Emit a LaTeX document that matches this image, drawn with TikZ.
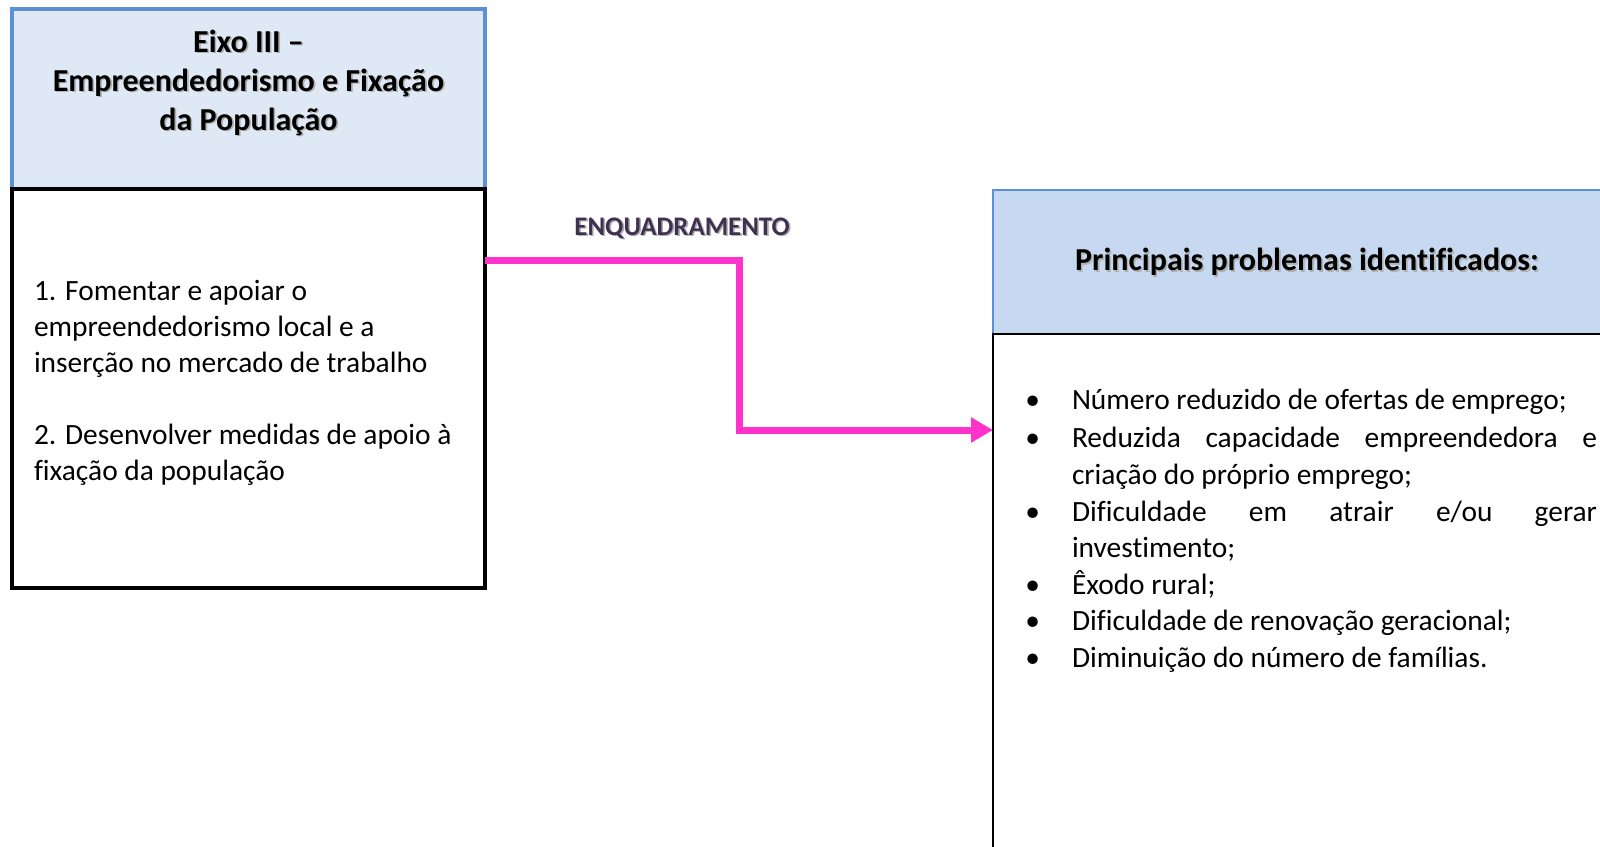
\documentclass[tikz,border=0pt]{standalone}
\usepackage{fontspec}
\setmainfont[Ligatures=NoCommon]{Carlito}
\usetikzlibrary{arrows.meta}
\definecolor{hdrA}{HTML}{DFE9F6}
\definecolor{hdrB}{HTML}{C6D9F1}
\definecolor{bordblue}{HTML}{5B8FD6}
\definecolor{arrowpink}{HTML}{FF33CC}
\definecolor{labpurple}{HTML}{3F3151}
\definecolor{shadowgray}{HTML}{B0B0B0}
\newcommand{\shtext}[1]{\makebox[0pt][l]{\textcolor{shadowgray}{\hspace{0.8pt}\raisebox{-0.8pt}{#1}}}#1}
\begin{document}
\begin{tikzpicture}[x=0.5pt,y=-0.5pt,
  hdrbox/.style={draw=bordblue, inner sep=0pt, outer sep=0pt},
  bodybox/.style={draw=black, inner sep=0pt, outer sep=0pt, fill=white},
  txt/.style={inner sep=0pt, outer sep=0pt},
  conn/.style={draw=arrowpink, line width=3.5pt, -{Triangle[length=11pt,width=12pt]}}]
\useasboundingbox (0,0) rectangle (1600,846);
\clip (0,0) rectangle (1600,846);
% left box
\node[hdrbox, fill=hdrA, line width=2pt, minimum width=236.5pt, minimum height=90pt] (lhead) at (248.5,99) {};
\node[bodybox, line width=2pt, minimum width=236.5pt, minimum height=199.5pt] (lbody) at (248.5,388.5) {};
% right box
\node[hdrbox, fill=hdrB, line width=1.2pt, minimum width=313.5pt, minimum height=72pt] (rhead) at (1306.5,262) {};
\node[bodybox, line width=1pt, minimum width=313.5pt, minimum height=273pt] (rbody) at (1306.5,607) {};
% titles
\node[txt, anchor=north, align=center, font=\fontsize{16pt}{19.5pt}\selectfont\bfseries] (ttl) at (248.5,25)
  {\strut\shtext{Eixo III --}\\\shtext{Empreendedorismo e Fixação}\\\shtext{da População}};
\node[txt, font=\fontsize{16pt}{18pt}\selectfont\bfseries] (rttl) at (1307,263) {\shtext{Principais problemas identificados:}};
% left body text
\node[txt, anchor=north west, align=left, font=\fontsize{14.7pt}{18pt}\selectfont] (ltext) at (34,275)
  {\strut 1. Fomentar e apoiar o\\empreendedorismo local e a\\inserção no mercado de trabalho\\[18pt]2. Desenvolver medidas de apoio à\\fixação da população};
% right list
\node[txt, anchor=north west, align=left, font=\fontsize{14.7pt}{18.3pt}\selectfont] (rlist) at (1072,384)
  {\strut\llap{\textbullet\hspace{16pt}}Número reduzido de ofertas de emprego;\\[0.8pt]
   \llap{\textbullet\hspace{16pt}}\makebox[262.5pt][s]{Reduzida capacidade empreendedora e}\\
   criação do próprio emprego;\\
   \llap{\textbullet\hspace{16pt}}\makebox[262.5pt][s]{Dificuldade em atrair e/ou gerar}\\
   investimento;\\
   \llap{\textbullet\hspace{16pt}}Êxodo rural;\\
   \llap{\textbullet\hspace{16pt}}Dificuldade de renovação geracional;\\
   \llap{\textbullet\hspace{16pt}}Diminuição do número de famílias.};
% connector
\coordinate (cstart) at (lbody.east |- 0,260);
\coordinate (cend) at (rbody.west |- 0,430);
\coordinate (bend1) at (739,260);
\coordinate (bend2) at (739,430);
\draw[conn] (cstart) -- (bend1) -- (bend2) -- (cend);
\node[txt, text=labpurple, font=\fontsize{13.4pt}{15pt}\selectfont\bfseries] (lab) at (682,229) {\shtext{ENQUADRAMENTO}};
\end{tikzpicture}
\end{document}
